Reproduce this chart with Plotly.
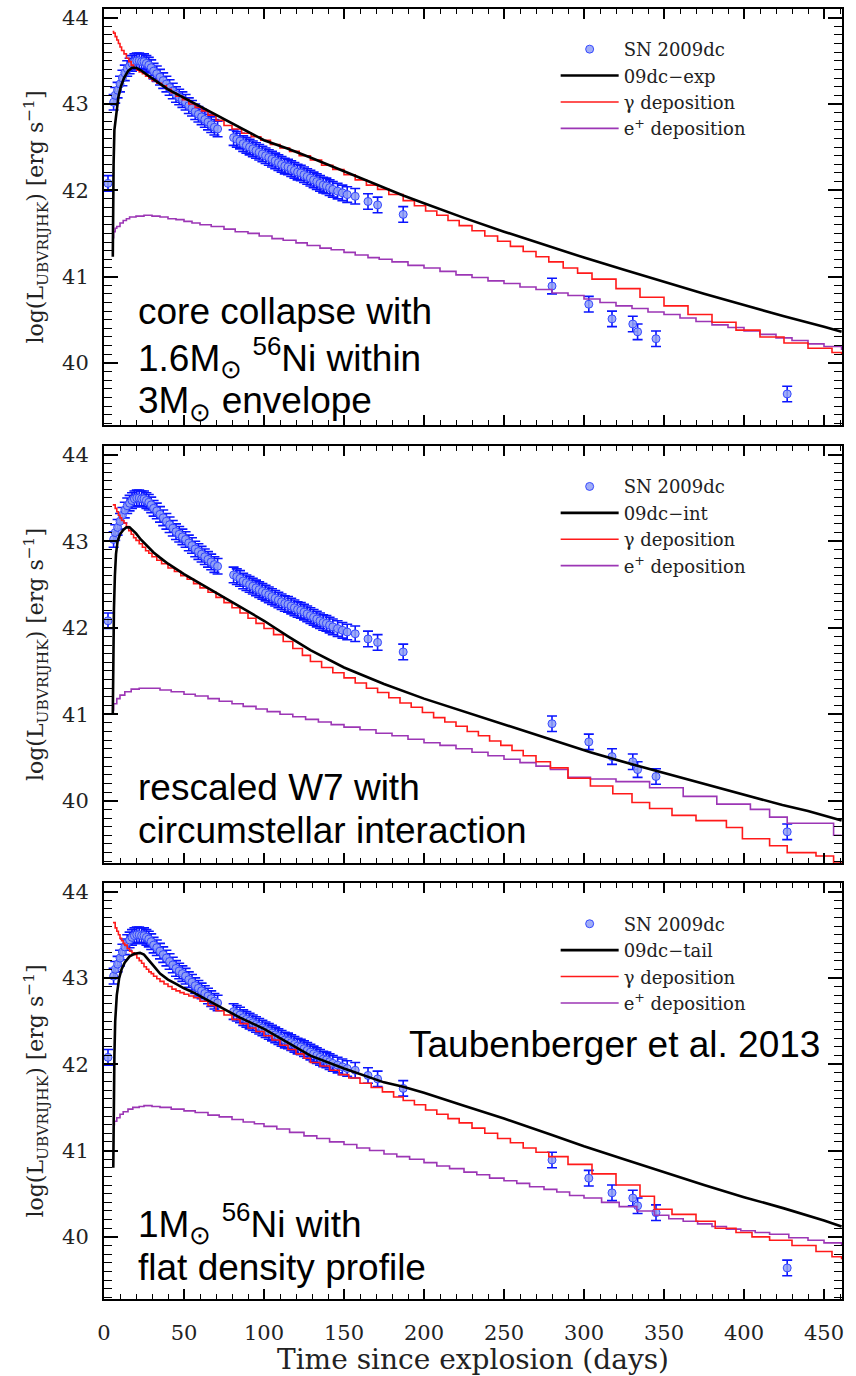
import plotly.graph_objects as go

# ---------------- observed SN 2009dc UBVRIJHK light curve ----------------
sn_day = [2.5, 6, 7, 8.5, 10, 11.5, 13, 14.5, 16, 17.5, 19, 20.5, 22, 23.5, 25, 26.5,
          28, 29.5, 31, 33, 35, 37, 39, 41, 43, 45, 47, 49, 51, 53, 55, 57, 59, 61,
          63, 65, 67, 69, 71,
          81, 83, 85, 87, 89, 91, 93, 95, 97, 99, 101, 103, 105, 107, 109, 111, 113,
          115, 117, 119, 121, 123, 125, 127, 129, 131, 133, 135, 137, 139, 141, 143,
          146, 149, 152, 157, 165, 171, 187,
          280, 303, 317.5, 330.5, 333.5, 345, 427]
sn_logl = [42.08, 43.02, 43.10, 43.16, 43.23, 43.30, 43.36, 43.41, 43.44, 43.47, 43.49,
           43.50, 43.50, 43.49, 43.49, 43.47, 43.45, 43.42, 43.38, 43.35, 43.31, 43.27,
           43.23, 43.19, 43.15, 43.11, 43.08, 43.05, 43.02, 42.98, 42.95, 42.91, 42.88,
           42.85, 42.82, 42.79, 42.76, 42.73, 42.71,
           42.61, 42.59, 42.57, 42.54, 42.52, 42.50, 42.48, 42.46, 42.44, 42.42, 42.40,
           42.38, 42.36, 42.34, 42.32, 42.30, 42.28, 42.27, 42.25, 42.23, 42.21, 42.20,
           42.18, 42.16, 42.14, 42.12, 42.10, 42.08, 42.06, 42.05, 42.03, 42.01,
           41.99, 41.97, 41.95, 41.93, 41.87, 41.83, 41.72,
           40.89, 40.68, 40.51, 40.45, 40.36, 40.28, 39.64]
SN_ERR = 0.09

# ---------------- model 09dc-exp ----------------
exp_day = [5.5, 5.7, 6, 6.5, 8, 9, 10.5, 12.5, 15, 17.5, 20, 23, 26, 30, 35, 40, 45,
           50, 60, 70, 85, 100, 115, 129, 150, 175, 187, 200, 225, 250, 275, 300, 325,
           350, 375, 400, 425, 450, 461]
exp_logl = [41.23, 41.80, 42.30, 42.70, 42.93, 43.08, 43.20, 43.30, 43.38, 43.42, 43.42,
            43.39, 43.35, 43.30, 43.23, 43.17, 43.12, 43.07, 42.97, 42.87, 42.72, 42.58,
            42.48, 42.38, 42.22, 42.03, 41.94, 41.85, 41.68, 41.52, 41.37, 41.22, 41.08,
            40.94, 40.80, 40.67, 40.54, 40.42, 40.36]
exp_gam_day = [5.4, 6, 7, 8, 9, 10, 11, 12.5, 14, 15.5, 17, 18.5, 20.4, 22, 24, 26, 28,
               30, 33, 36, 39, 42, 45, 49, 53, 57, 61, 65, 70, 75, 80, 86, 92, 98, 104,
               110, 116, 122, 129, 136, 143, 150, 157, 164, 171, 178, 187, 194, 201, 208,
               215, 222, 230, 238, 246, 254, 262, 270, 278, 287, 296, 305, 320, 335, 350,
               365, 380, 395, 410, 425, 440, 455, 461]
exp_gam_logl = [43.84, 43.82, 43.78, 43.74, 43.70, 43.66, 43.62, 43.58, 43.53, 43.49,
                43.45, 43.42, 43.39, 43.37, 43.35, 43.32, 43.30, 43.27, 43.24, 43.21,
                43.17, 43.13, 43.09, 43.05, 43.00, 42.96, 42.92, 42.87, 42.81, 42.75,
                42.71, 42.66, 42.62, 42.58, 42.53, 42.49, 42.45, 42.40, 42.35, 42.29,
                42.24, 42.18, 42.12, 42.06, 42.01, 41.95, 41.88, 41.82, 41.76, 41.71,
                41.65, 41.59, 41.53, 41.47, 41.41, 41.35, 41.29, 41.23, 41.17, 41.10,
                41.04, 40.97, 40.86, 40.76, 40.66, 40.56, 40.47, 40.38, 40.30, 40.23,
                40.17, 40.12, 40.10]
exp_pos_day = [5.4, 6, 7, 8, 10, 12, 14, 16, 20, 25, 30, 35, 40, 45, 50, 55, 60, 67, 75,
               82, 90, 97, 105, 112, 120, 127, 135, 142, 150, 157, 165, 172, 180, 190,
               200, 210, 220, 230, 240, 250, 260, 270, 280, 290, 300, 310, 320, 330, 340,
               350, 360, 370, 380, 390, 400, 410, 420, 430, 440, 450, 461]
exp_pos_logl = [41.45, 41.52, 41.56, 41.58, 41.62, 41.65, 41.67, 41.69, 41.70, 41.71,
                41.70, 41.69, 41.67, 41.66, 41.64, 41.62, 41.60, 41.58, 41.55, 41.52,
                41.50, 41.47, 41.44, 41.42, 41.39, 41.36, 41.33, 41.31, 41.28, 41.25,
                41.22, 41.20, 41.17, 41.13, 41.10, 41.06, 41.02, 40.99, 40.95, 40.92,
                40.88, 40.85, 40.81, 40.78, 40.74, 40.70, 40.66, 40.63, 40.59, 40.56,
                40.52, 40.48, 40.44, 40.41, 40.37, 40.33, 40.29, 40.26, 40.22, 40.19,
                40.15]

# ---------------- model 09dc-int ----------------
int_day = [5.5, 5.8, 6.2, 6.8, 7.5, 8.5, 10, 12, 14, 16, 18, 20, 23, 27, 31, 35, 40, 50,
           60, 70, 85, 100, 115, 129, 150, 175, 200, 225, 250, 279, 304, 330, 360, 386,
           410, 424, 440, 461]
int_logl = [41.00, 41.60, 42.20, 42.60, 42.85, 43.00, 43.08, 43.13, 43.16, 43.16, 43.13,
            43.09, 43.02, 42.94, 42.87, 42.81, 42.74, 42.62, 42.51, 42.40, 42.24, 42.08,
            41.90, 41.74, 41.54, 41.35, 41.18, 41.03, 40.88, 40.71, 40.56, 40.42, 40.27,
            40.14, 40.02, 39.95, 39.88, 39.77]
int_gam_day = [5.5, 7, 8, 9, 10, 11, 12.5, 14, 15.5, 17, 18.5, 20, 22, 24, 26, 28, 30,
               33, 36, 40, 44, 48, 52, 56, 60, 65, 70, 75, 80, 85, 90, 95, 100, 106, 112,
               118, 124, 129, 136, 143, 150, 157, 164, 171, 178, 185, 192, 199, 206, 213,
               220, 227, 234, 241, 248, 255, 262, 270, 279, 290, 304, 318, 330, 341, 355,
               370, 389, 399, 416, 427, 445, 456, 461]
int_gam_logl = [43.42, 43.38, 43.34, 43.30, 43.27, 43.24, 43.21, 43.17, 43.12, 43.08,
                43.04, 43.01, 42.97, 42.93, 42.89, 42.86, 42.82, 42.78, 42.74, 42.69,
                42.65, 42.60, 42.56, 42.51, 42.46, 42.41, 42.35, 42.29, 42.23, 42.17,
                42.11, 42.05, 41.99, 41.92, 41.84, 41.76, 41.68, 41.61, 41.54, 41.48,
                41.42, 41.36, 41.30, 41.25, 41.19, 41.13, 41.08, 41.02, 40.96, 40.91,
                40.86, 40.80, 40.75, 40.69, 40.64, 40.58, 40.52, 40.45, 40.38, 40.26,
                40.17, 40.08, 39.98, 39.91, 39.83, 39.77, 39.69, 39.56, 39.48, 39.40,
                39.36, 39.28, 39.25]
int_pos_day = [5.5, 6, 8, 10, 13, 17, 22, 28, 35, 42, 50, 57, 65, 72, 80, 87, 95, 102,
               110, 118, 126, 134, 142, 150, 160, 170, 180, 190, 200, 210, 220, 230, 240,
               250, 260, 270, 279, 290, 304, 320, 341, 362, 383, 404, 416, 427, 456, 461]
int_pos_logl = [41.05, 41.12, 41.18, 41.22, 41.26, 41.29, 41.30, 41.30, 41.28, 41.26,
                41.23, 41.21, 41.18, 41.15, 41.12, 41.09, 41.06, 41.03, 41.00, 40.97,
                40.94, 40.91, 40.88, 40.85, 40.82, 40.78, 40.75, 40.71, 40.67, 40.64,
                40.60, 40.56, 40.52, 40.48, 40.44, 40.40, 40.36, 40.27, 40.25, 40.22,
                40.15, 40.05, 39.96, 39.90, 39.81, 39.74, 39.60, 39.60]

# ---------------- model 09dc-tail ----------------
tail_day = [5.8, 6.1, 6.5, 7, 8, 9.5, 11, 13, 16, 19, 22.5, 25, 28, 31, 35, 40, 45, 50,
            56, 65, 75, 85, 100, 115, 129, 150, 175, 187, 200, 225, 250, 280, 300, 325,
            350, 375, 400, 425, 450, 461]
tail_logl = [40.80, 41.50, 42.10, 42.50, 42.80, 43.00, 43.10, 43.18, 43.25, 43.28, 43.29,
             43.27, 43.21, 43.14, 43.05, 42.98, 42.93, 42.88, 42.83, 42.74, 42.64, 42.54,
             42.41, 42.25, 42.10, 41.95, 41.79, 41.74, 41.67, 41.52, 41.37, 41.18, 41.05,
             40.90, 40.75, 40.60, 40.46, 40.33, 40.19, 40.12]
tail_gam_day = [5.6, 7, 8, 9, 10, 11, 12, 13, 14.5, 16, 17.5, 19, 20.5, 22, 23.5, 25,
                26.5, 28, 29.5, 31, 33, 35, 37.5, 40, 42.5, 45, 47.5, 50, 53, 56, 60, 65,
                70, 75, 80, 85, 90, 95, 100, 105, 110, 115, 120, 125, 129, 135, 141, 147,
                153, 160, 167, 174, 181, 187, 194, 201, 208, 215, 222, 230, 238, 246, 254,
                262, 270, 278, 290, 305, 320, 335, 344, 355, 370, 382, 395, 405, 416, 430,
                445, 455, 461]
tail_gam_logl = [43.64, 43.58, 43.54, 43.50, 43.46, 43.43, 43.40, 43.38, 43.34, 43.31,
                 43.29, 43.27, 43.23, 43.20, 43.17, 43.13, 43.10, 43.07, 43.05, 43.02,
                 42.99, 42.96, 42.93, 42.90, 42.87, 42.85, 42.83, 42.81, 42.79, 42.77,
                 42.73, 42.68, 42.62, 42.57, 42.52, 42.47, 42.42, 42.38, 42.33, 42.28,
                 42.22, 42.17, 42.12, 42.07, 42.02, 41.98, 41.93, 41.88, 41.84, 41.78,
                 41.73, 41.68, 41.62, 41.58, 41.53, 41.47, 41.42, 41.37, 41.32, 41.26,
                 41.20, 41.14, 41.09, 41.03, 40.98, 40.93, 40.84, 40.73, 40.60, 40.47,
                 40.32, 40.26, 40.18, 40.10, 40.05, 40.00, 39.96, 39.90, 39.83, 39.77,
                 39.74]
tail_pos_day = [5.5, 6.5, 8, 10, 12, 15, 18, 22, 25, 30, 35, 42, 50, 57, 65, 72, 80, 87,
                94, 100, 108, 116, 125, 133, 141, 150, 158, 166, 175, 183, 191, 200, 208,
                216, 225, 233, 241, 250, 258, 266, 275, 283, 291, 300, 311, 322, 333, 344,
                353, 362, 371, 380, 389, 398, 407, 416, 428, 440, 450, 461]
tail_pos_logl = [41.30, 41.34, 41.38, 41.42, 41.45, 41.48, 41.50, 41.51, 41.52, 41.51,
                 41.50, 41.48, 41.46, 41.44, 41.41, 41.39, 41.36, 41.33, 41.31, 41.28,
                 41.25, 41.21, 41.17, 41.14, 41.10, 41.07, 41.03, 41.00, 40.96, 40.93,
                 40.90, 40.86, 40.82, 40.79, 40.75, 40.72, 40.68, 40.65, 40.62, 40.58,
                 40.55, 40.52, 40.48, 40.45, 40.40, 40.35, 40.30, 40.25, 40.21, 40.18,
                 40.15, 40.12, 40.09, 40.07, 40.05, 40.03, 39.99, 39.96, 39.93, 39.90]

# ---------------- axis ticks and legend names ----------------
x_ticks = [0, 50, 100, 150, 200, 250, 300, 350, 400, 450]
y_ticks = [40, 41, 42, 43, 44]
model_names = ["09dc\u2212exp", "09dc\u2212int", "09dc\u2212tail"]

panels = [
    (exp_day, exp_logl, exp_gam_day, exp_gam_logl, exp_pos_day, exp_pos_logl),
    (int_day, int_logl, int_gam_day, int_gam_logl, int_pos_day, int_pos_logl),
    (tail_day, tail_logl, tail_gam_day, tail_gam_logl, tail_pos_day, tail_pos_logl),
]

SERIF = "DejaVu Serif"
SANS = "Liberation Sans, Arial, Helvetica, sans-serif"
RED = "#ff1a1a"
PURPLE = "#9c36b5"

fig = go.Figure()

legend_ids = ["legend", "legend2", "legend3"]
for i, (bd, bl, gd, gl, pd_, pl) in enumerate(panels):
    xa = "x" if i == 0 else f"x{i+1}"
    ya = "y" if i == 0 else f"y{i+1}"
    lg = legend_ids[i]
    fig.add_trace(go.Scatter(
        x=sn_day, y=sn_logl, mode="markers", name="SN 2009dc",
        xaxis=xa, yaxis=ya, legend=lg, legendrank=1,
        marker=dict(symbol="circle", size=8, color="rgba(145,160,245,0.85)",
                    line=dict(color="rgba(40,60,255,0.9)", width=1)),
        error_y=dict(type="constant", value=SN_ERR, color="#0a14ff",
                     thickness=1.6, width=5),
    ))
    fig.add_trace(go.Scatter(
        x=pd_, y=pl, mode="lines", name="e<sup>+</sup> deposition",
        xaxis=xa, yaxis=ya, legend=lg, legendrank=4,
        line=dict(color=PURPLE, width=1.6, shape="hv"),
    ))
    fig.add_trace(go.Scatter(
        x=gd, y=gl, mode="lines", name="\u03b3 deposition",
        xaxis=xa, yaxis=ya, legend=lg, legendrank=3,
        line=dict(color=RED, width=1.6, shape="hv"),
    ))
    fig.add_trace(go.Scatter(
        x=bd, y=bl, mode="lines", name=model_names[i],
        xaxis=xa, yaxis=ya, legend=lg, legendrank=2,
        line=dict(color="black", width=2.6),
    ))

y_domains = [[0.6775, 1.0], [0.338, 0.6612], [0.0, 0.3225]]
X_RANGE = [0, 461.25]
Y_RANGE = [39.28, 44.1]

axis_common = dict(showline=True, linecolor="black", linewidth=2, mirror="ticks",
                   showgrid=False, zeroline=False, ticks="inside")

layout = dict()
for i in range(3):
    xk = "xaxis" if i == 0 else f"xaxis{i+1}"
    yk = "yaxis" if i == 0 else f"yaxis{i+1}"
    ya = "y" if i == 0 else f"y{i+1}"
    xa = "x" if i == 0 else f"x{i+1}"
    layout[xk] = dict(
        axis_common, domain=[0, 1], anchor=ya, range=X_RANGE,
        tickmode="array", tickvals=x_ticks, ticktext=[str(v) for v in x_ticks],
        ticklen=10, tickwidth=1.5, tickcolor="black",
        minor=dict(dtick=10, tick0=0, ticks="inside", ticklen=5, tickwidth=1.2,
                   tickcolor="black"),
        showticklabels=(i == 2),
        tickfont=dict(family=SERIF, size=21, color="#222"),
        ticklabelstandoff=14,
    )
    if i == 2:
        layout[xk]["title"] = dict(text="Time since explosion (days)",
                                   font=dict(family=SERIF, size=28, color="#222"),
                                   standoff=4)
    layout[yk] = dict(
        axis_common, domain=y_domains[i], anchor=xa, range=Y_RANGE,
        tickmode="array", tickvals=y_ticks, ticktext=[str(v) for v in y_ticks],
        ticklen=14, tickwidth=1.5, tickcolor="black",
        minor=dict(dtick=0.1, tick0=40, ticks="inside", ticklen=8, tickwidth=1.2,
                   tickcolor="black"),
        tickfont=dict(family=SERIF, size=21, color="#222"),
        ticklabelstandoff=9,
        title=dict(text="log(L<sub>UBVRIJHK</sub>) [erg s<sup>\u22121</sup>]",
                   font=dict(family=SERIF, size=22, color="#222"), standoff=12),
    )

legend_style = dict(font=dict(family=SERIF, size=18, color="#222"),
                    bgcolor="rgba(0,0,0,0)", xanchor="left", yanchor="top",
                    tracegroupgap=0, itemwidth=58, traceorder="normal")
layout["legend"] = dict(legend_style, x=0.612, y=0.983)
layout["legend2"] = dict(legend_style, x=0.612, y=0.644)
layout["legend3"] = dict(legend_style, x=0.612, y=0.305)

ann_font = dict(family=SANS, size=37, color="black")
annotations = [
    ("x", "y", 20, 40.59, "core collapse with", "left"),
    ("x", "y", 20, 40.06, "1.6M<sub>\u2299</sub> <sup>56</sup>Ni within", "left"),
    ("x", "y", 20, 39.54, "3M<sub>\u2299</sub> envelope", "left"),
    ("x2", "y2", 20, 40.15, "rescaled W7 with", "left"),
    ("x2", "y2", 20, 39.65, "circumstellar interaction", "left"),
    ("x3", "y3", 449, 42.23, "Taubenberger et al. 2013", "right"),
    ("x3", "y3", 20, 40.16, "1M<sub>\u2299</sub> <sup>56</sup>Ni with", "left"),
    ("x3", "y3", 20, 39.65, "flat density profile", "left"),
]
layout["annotations"] = [
    dict(xref=xr, yref=yr, x=xv, y=yv, text=t, xanchor=xan, yanchor="middle",
         showarrow=False, font=ann_font)
    for xr, yr, xv, yv, t, xan in annotations
]

fig.update_layout(
    width=856, height=1376,
    margin=dict(l=104, r=14, t=9, b=77, autoexpand=False),
    paper_bgcolor="white", plot_bgcolor="white",
    **layout,
)

fig.write_html("out.html")
